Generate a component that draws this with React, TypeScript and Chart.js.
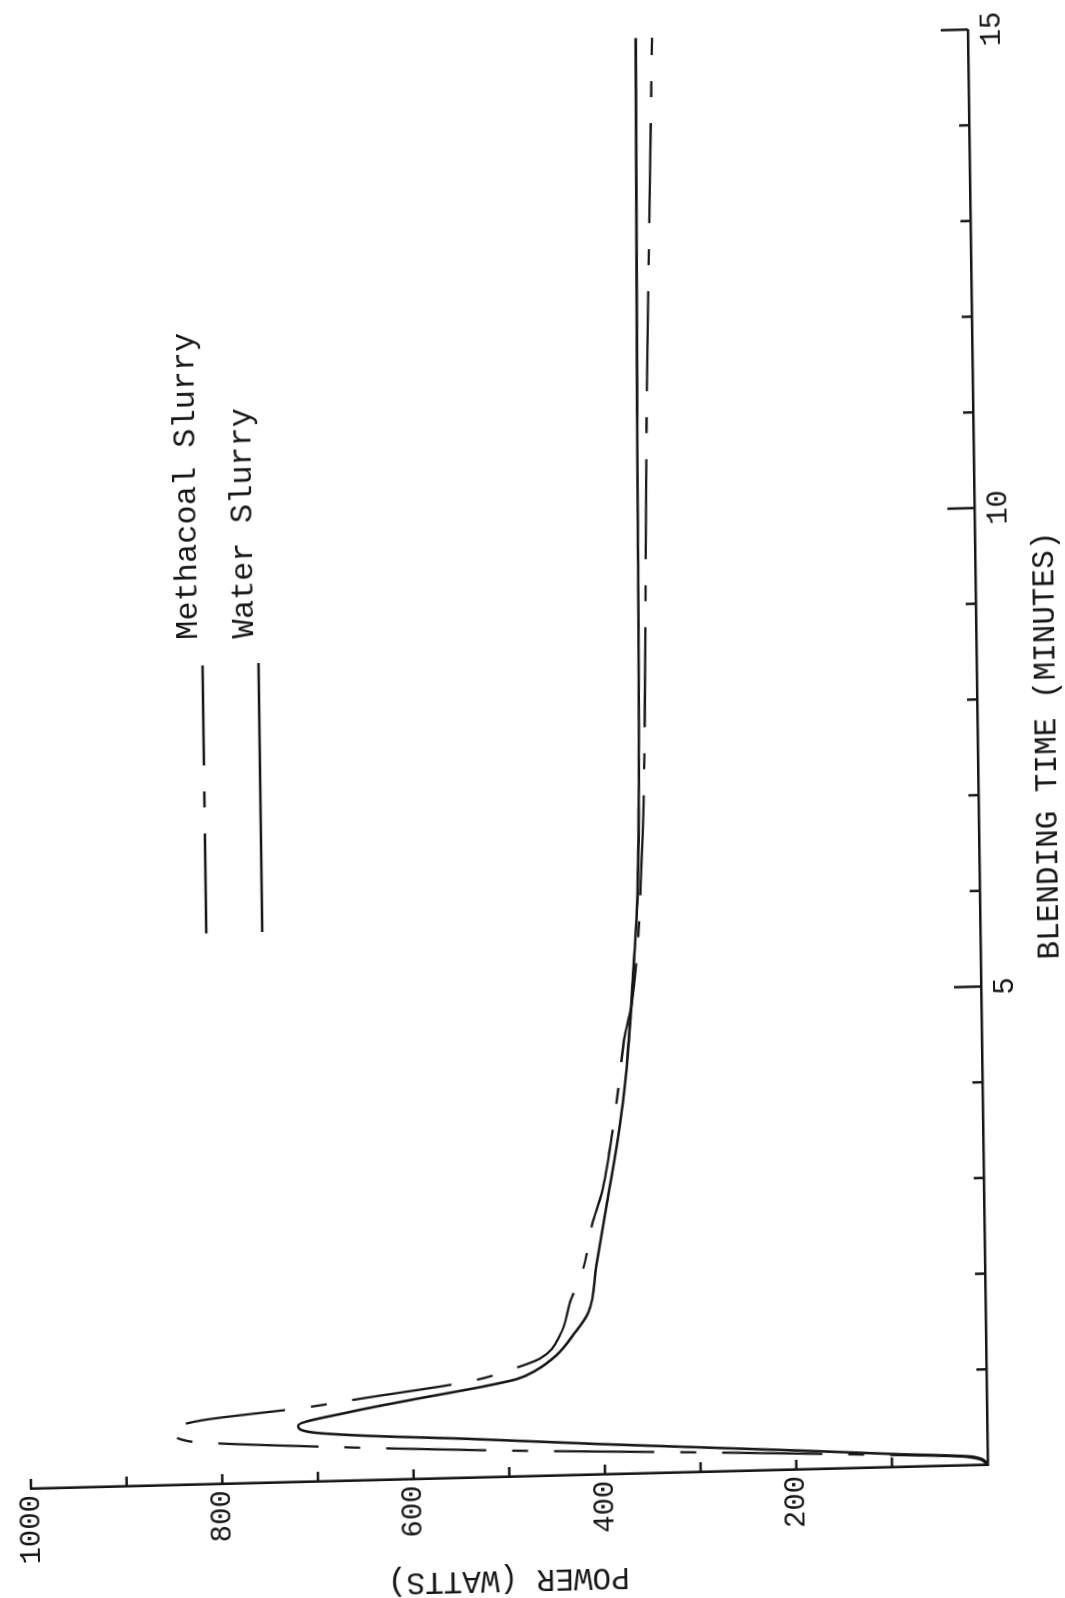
import React, { useEffect, useRef } from "react";
import { Chart, registerables } from "chart.js";

Chart.register(...registerables);

// ---- data (blending time in minutes, power in watts) ----
const timeMethacoal = [0, 0.09, 0.14, 0.2, 0.275, 0.36, 0.46, 0.57, 0.67, 0.78, 0.86, 1.01, 1.14, 1.23, 1.47, 1.81, 2.15, 2.61, 2.95, 3.6, 4.06, 4.58, 4.92, 6.55, 7.0, 11.1, 15.0];
const powerMethacoal = [0, 22, 126, 280, 499, 685, 836, 852, 822, 711, 652, 540, 491, 466, 445, 434, 420, 410, 399, 387, 380, 373, 365, 352, 350, 341, 330];

const timeWater = [0, 0.09, 0.14, 0.2, 0.32, 0.41, 0.47, 0.52, 0.59, 0.72, 0.84, 0.95, 1.02, 1.11, 1.26, 1.47, 1.7, 2.19, 2.84, 3.43, 3.88, 4.4, 5.26, 5.96, 7.0, 11.1, 15.0];
const powerWater = [0, 15, 99, 196, 405, 544, 652, 707, 720, 666, 596, 527, 491, 470, 449, 431, 415, 406, 394, 383, 376, 370, 363, 358, 355, 351, 347];

const seriesLabels = ["Methacoal Slurry", "Water Slurry"];
const timeLabelValues = [5, 10, 15];
const powerLabelValues = [200, 400, 600, 800, 1000];
const timeAxisTitle = "BLENDING TIME (MINUTES)";
const powerAxisTitle = "POWER (WATTS)";

const INK = "#161616";
const MONO = "'Liberation Mono', 'DejaVu Sans Mono', monospace";

const inwardTicks = {
  id: "inwardTicks",
  afterDraw(chart: any) {
    const { ctx, chartArea, scales } = chart;
    const xs = scales.x;
    const ys = scales.y;
    ctx.save();
    ctx.strokeStyle = INK;
    ctx.lineWidth = 2.5;
    ctx.setLineDash([]);
    xs.ticks.forEach((t: any) => {
      if (t.value === 0) return;
      const px = xs.getPixelForValue(t.value);
      const len = t.value % 5 === 0 ? 27 : 10;
      ctx.beginPath();
      ctx.moveTo(px, chartArea.bottom);
      ctx.lineTo(px, chartArea.bottom - len);
      ctx.stroke();
    });
    ys.ticks.forEach((t: any) => {
      if (t.value === 0) return;
      const py = ys.getPixelForValue(t.value);
      ctx.beginPath();
      ctx.moveTo(chartArea.left, py);
      ctx.lineTo(chartArea.left + 10, py);
      ctx.stroke();
    });
    ctx.restore();
  },
};

const sideLegend = {
  id: "sideLegend",
  afterDraw(chart: any) {
    const { ctx, chartArea } = chart;
    const rows = [774, 718];
    chart.data.datasets.forEach((ds: any, i: number) => {
      const y = chartArea.bottom - rows[i];
      ctx.save();
      ctx.strokeStyle = ds.borderColor;
      ctx.lineWidth = ds.borderWidth;
      ctx.setLineDash(ds.borderDash || []);
      ctx.beginPath();
      ctx.moveTo(chartArea.left + 551, y);
      ctx.lineTo(chartArea.left + 820, y);
      ctx.stroke();
      ctx.setLineDash([]);
      ctx.fillStyle = INK;
      ctx.font = `32px ${MONO}`;
      ctx.textAlign = "left";
      ctx.textBaseline = "alphabetic";
      ctx.fillText(ds.label, chartArea.left + 845, y - 5);
      ctx.restore();
    });
  },
};

const powerTitle = {
  id: "powerTitle",
  afterDraw(chart: any) {
    const { ctx, chartArea } = chart;
    ctx.save();
    ctx.translate(chartArea.left - 102, (chartArea.top + chartArea.bottom) / 2 - 2);
    ctx.rotate(-Math.PI / 2);
    ctx.fillStyle = INK;
    ctx.font = `31px ${MONO}`;
    ctx.textAlign = "center";
    ctx.textBaseline = "middle";
    ctx.fillText(powerAxisTitle, 0, 0);
    ctx.restore();
  },
};

export default function App() {
  const ref = useRef<HTMLCanvasElement>(null);

  useEffect(() => {
    const toPts = (xs: number[], ys: number[]) => xs.map((x, i) => ({ x, y: ys[i] }));
    const chart = new Chart(ref.current as HTMLCanvasElement, {
      type: "line",
      data: {
        datasets: [
          {
            label: seriesLabels[0],
            data: toPts(timeMethacoal, powerMethacoal),
            borderColor: INK,
            borderWidth: 2.3,
            borderDash: [100, 26, 16, 26],
            pointRadius: 0,
            fill: false,
            cubicInterpolationMode: "monotone",
          },
          {
            label: seriesLabels[1],
            data: toPts(timeWater, powerWater),
            borderColor: INK,
            borderWidth: 2.6,
            pointRadius: 0,
            fill: false,
            cubicInterpolationMode: "monotone",
          },
        ],
      },
      options: {
        responsive: false,
        animation: false,
        devicePixelRatio: 1,
        layout: { padding: { left: 61, top: 43, right: 18, bottom: 0 } },
        plugins: {
          legend: { display: false },
          tooltip: { enabled: false },
        },
        scales: {
          x: {
            type: "linear",
            min: 0,
            max: 15,
            afterFit: (s: any) => {
              s.height = 100;
            },
            ticks: {
              stepSize: 1,
              autoSkip: false,
              maxRotation: 0,
              padding: 7,
              color: INK,
              font: { family: MONO, size: 29 },
              callback: (v: any) => (timeLabelValues.includes(Number(v)) ? String(v) : ""),
            },
            grid: { display: true, drawOnChartArea: false, drawTicks: false },
            border: { display: true, color: INK, width: 2.6 },
            title: {
              display: true,
              text: timeAxisTitle,
              color: INK,
              font: { family: MONO, size: 31 },
              padding: { top: 0, bottom: 12 },
            },
          },
          y: {
            type: "linear",
            min: 0,
            max: 1000,
            afterFit: (s: any) => {
              s.width = 79;
            },
            ticks: {
              stepSize: 100,
              autoSkip: false,
              crossAlign: "near",
              padding: 6,
              color: INK,
              font: { family: MONO, size: 29 },
              callback: (v: any) => (powerLabelValues.includes(Number(v)) ? String(v) : ""),
            },
            grid: { display: true, drawOnChartArea: false, drawTicks: false },
            border: { display: true, color: INK, width: 2.6 },
          },
        },
      },
      plugins: [inwardTicks, sideLegend, powerTitle],
    } as any);
    return () => chart.destroy();
  }, []);

  return (
    <div
      style={{
        position: "fixed",
        left: 0,
        top: 0,
        width: 1065,
        height: 1598,
        overflow: "hidden",
        background: "#ffffff",
      }}
    >
      <div
        style={{
          position: "absolute",
          left: 0,
          top: 0,
          width: 1600,
          height: 1100,
          transformOrigin: "140px 1000px",
          transform: "translate(848px, 465px) matrix(-0.0139, -1, 1, -0.025, 0, 0)",
        }}
      >
        <canvas ref={ref} width={1600} height={1100} style={{ width: 1600, height: 1100, display: "block" }} />
      </div>
    </div>
  );
}
